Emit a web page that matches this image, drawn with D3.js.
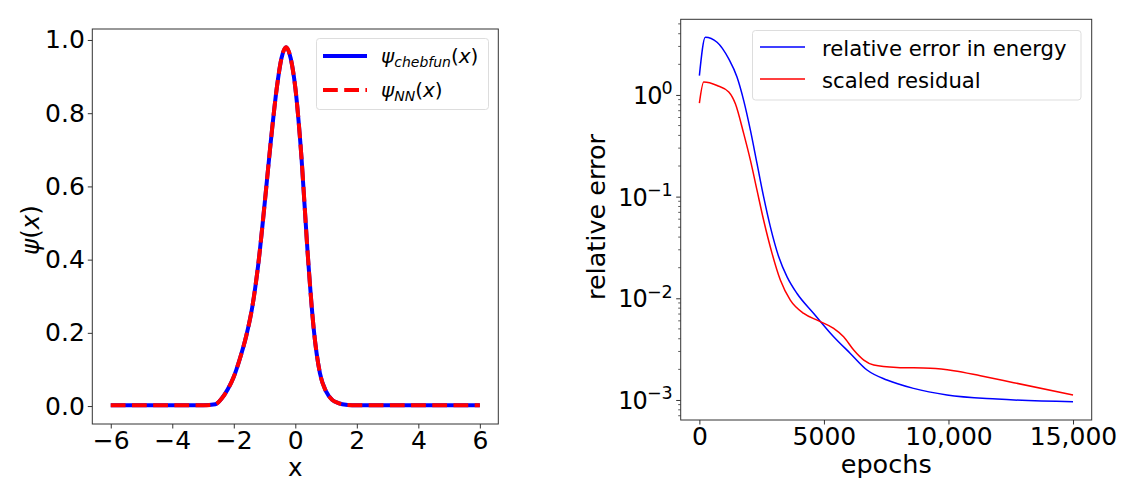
<!DOCTYPE html>
<html><head><meta charset="utf-8">
<script src="https://cdn.jsdelivr.net/npm/d3@7"></script>
<style>body{margin:0;background:#fff}svg{display:block;font-family:"DejaVu Sans",sans-serif}</style>
</head><body><svg id="c" width="1143" height="499"></svg>
<script>
// ---- Left panel data: wavefunction ----
const psiX = [-6, -4, -3, -2.6, -2.4, -2.2, -2.0, -1.8, -1.6, -1.4, -1.2, -1.0, -0.8, -0.6, -0.45, -0.3, -0.15, 0.0, 0.2, 0.4, 0.6, 0.8, 1.0, 1.2, 1.4, 1.7, 2.0, 4, 6];
const psiChebfun = [0.002, 0.002, 0.002, 0.005, 0.02, 0.045, 0.08, 0.13, 0.19, 0.27, 0.39, 0.55, 0.72, 0.87, 0.95, 0.98, 0.95, 0.87, 0.68, 0.42, 0.21, 0.09, 0.04, 0.017, 0.008, 0.003, 0.002, 0.002, 0.002];
const psiNN = [0.002, 0.002, 0.002, 0.005, 0.02, 0.045, 0.08, 0.13, 0.19, 0.27, 0.39, 0.55, 0.72, 0.87, 0.95, 0.98, 0.95, 0.87, 0.68, 0.42, 0.21, 0.09, 0.04, 0.017, 0.008, 0.003, 0.002, 0.002, 0.002];
const leftXTicks = [-6, -4, -2, 0, 2, 4, 6];
const leftYTicks = [0.0, 0.2, 0.4, 0.6, 0.8, 1.0];

// ---- Right panel data: training errors ----
const energyEpochs = [0, 240, 710, 1180, 1510, 1780, 2050, 2315, 2580, 2850, 3185, 3520, 3920, 4590, 5390, 6060, 6730, 7530, 8600, 9940, 11950, 15000];
const energyErr = [1.55, 3.70, 3.30, 2.26, 1.50, 0.88, 0.448, 0.211, 0.0993, 0.0504, 0.0256, 0.01626, 0.01115, 0.0071, 0.00419, 0.00287, 0.00197, 0.00157, 0.0013, 0.00112, 0.00102, 0.00096];
const residEpochs = [0, 175, 710, 1180, 1445, 1780, 2050, 2315, 2580, 2920, 3250, 3650, 4190, 4790, 5390, 5790, 6195, 6600, 7000, 7930, 9270, 10210, 11280, 12620, 15000];
const residErr = [0.83, 1.34, 1.24, 1.07, 0.82, 0.416, 0.227, 0.115, 0.0585, 0.0275, 0.0151, 0.0096, 0.0071, 0.0060, 0.00506, 0.00419, 0.0031, 0.00247, 0.00221, 0.00209, 0.00205, 0.00194, 0.00173, 0.00148, 0.00112];
const rightXTicks = [0, 5000, 10000, 15000];
const rightXTickLabels = ["0", "5000", "10,000", "15,000"];
const rightYExps = [0, -1, -2, -3];

const svg = d3.select("#c");
const TICK_FS = 25;
const LABEL_FS = 24.5;
const spineColor = "#333";

function frame(g, x0, y0, w, h) {
  g.append("rect").attr("x", x0).attr("y", y0).attr("width", w).attr("height", h)
    .attr("fill", "none").attr("stroke", spineColor).attr("stroke-width", 1);
}

// ================= LEFT =================
{
  const L = {x0: 92.3, x1: 498.3, y0: 29, y1: 424};
  const x = d3.scaleLinear().domain([-6.6, 6.6]).range([L.x0, L.x1]);
  const y = d3.scaleLinear().domain([-0.049, 1.03]).range([L.y1, L.y0]);
  const g = svg.append("g");
  const pts = psiX.map((v, i) => [v, psiChebfun[i]]);
  const ptsNN = psiX.map((v, i) => [v, psiNN[i]]);
  const line = d3.line().x(d => x(d[0])).y(d => y(d[1])).curve(d3.curveMonotoneX);
  g.append("clipPath").attr("id", "clipL").append("rect")
    .attr("x", L.x0).attr("y", L.y0).attr("width", L.x1 - L.x0).attr("height", L.y1 - L.y0);
  g.append("path").attr("d", line(pts)).attr("fill", "none").attr("stroke", "#0000ff").attr("stroke-width", 4).attr("clip-path", "url(#clipL)");
  g.append("path").attr("d", line(ptsNN)).attr("fill", "none").attr("stroke", "#ff0000").attr("stroke-width", 4).attr("stroke-dasharray", "14.8,6.4").attr("clip-path", "url(#clipL)");

  const xa = g.append("g").attr("transform", `translate(0,${L.y1})`)
    .call(d3.axisBottom(x).tickValues(leftXTicks).tickSize(4.5).tickPadding(3).tickFormat(d => d < 0 ? "\u2212" + Math.abs(d) : d));
  const ya = g.append("g").attr("transform", `translate(${L.x0},0)`)
    .call(d3.axisLeft(y).tickValues(leftYTicks).tickSize(4.5).tickPadding(3).tickFormat(d3.format(".1f")));
  [xa, ya].forEach(a => {
    a.select(".domain").remove();
    a.selectAll("line").attr("stroke", spineColor);
    a.selectAll("text").attr("font-size", TICK_FS).attr("fill", "#000").attr("font-family", "DejaVu Sans");
  });
  frame(g, L.x0, L.y0, L.x1 - L.x0, L.y1 - L.y0);

  g.append("text").attr("x", (L.x0 + L.x1) / 2).attr("y", 476).attr("text-anchor", "middle")
    .attr("font-size", LABEL_FS).text("x");
  const yl = g.append("text").attr("transform", `translate(39,230) rotate(-90)`).attr("text-anchor", "middle").attr("font-size", LABEL_FS);
  yl.append("tspan").attr("font-style", "italic").text("\u03c8");
  yl.append("tspan").text("(");
  yl.append("tspan").attr("font-style", "italic").text("x");
  yl.append("tspan").text(")");

  // legend
  const lg = g.append("g");
  lg.append("rect").attr("x", 316.5).attr("y", 38.5).attr("width", 172).attr("height", 71).attr("rx", 3)
    .attr("fill", "#fff").attr("fill-opacity", 0.8).attr("stroke", "#ddd");
  lg.append("line").attr("x1", 323).attr("x2", 367).attr("y1", 56).attr("y2", 56).attr("stroke", "#0000ff").attr("stroke-width", 4);
  lg.append("line").attr("x1", 323).attr("x2", 367).attr("y1", 90).attr("y2", 90).attr("stroke", "#ff0000").attr("stroke-width", 4).attr("stroke-dasharray", "14.8,6.4");
  const t1 = lg.append("text").attr("x", 381).attr("y", 63).attr("font-size", 20);
  t1.append("tspan").attr("font-style", "italic").text("\u03c8");
  t1.append("tspan").attr("font-style", "italic").attr("font-size", 14).attr("dy", 4).text("chebfun");
  t1.append("tspan").attr("dy", -4).text("(");
  t1.append("tspan").attr("font-style", "italic").text("x");
  t1.append("tspan").text(")");
  const t2 = lg.append("text").attr("x", 381).attr("y", 97).attr("font-size", 20);
  t2.append("tspan").attr("font-style", "italic").text("\u03c8");
  t2.append("tspan").attr("font-style", "italic").attr("font-size", 14).attr("dy", 4).text("NN");
  t2.append("tspan").attr("dy", -4).text("(");
  t2.append("tspan").attr("font-style", "italic").text("x");
  t2.append("tspan").text(")");
}

// ================= RIGHT =================
{
  const R = {x0: 680.7, x1: 1091.7, y0: 19.3, y1: 420};
  const x = d3.scaleLinear().domain([-750, 15750]).range([R.x0, R.x1]);
  const y = d3.scaleLog().domain([Math.pow(10, -3.197), Math.pow(10, 0.744)]).range([R.y1, R.y0]);
  const g = svg.append("g");
  g.append("clipPath").attr("id", "clipR").append("rect")
    .attr("x", R.x0).attr("y", R.y0).attr("width", R.x1 - R.x0).attr("height", R.y1 - R.y0);
  const line = d3.line().x(d => x(d[0])).y(d => y(d[1])).curve(d3.curveMonotoneX);
  g.append("path").attr("d", line(energyEpochs.map((e, i) => [e, energyErr[i]])))
    .attr("fill", "none").attr("stroke", "#0000ff").attr("stroke-width", 1.5).attr("clip-path", "url(#clipR)");
  g.append("path").attr("d", line(residEpochs.map((e, i) => [e, residErr[i]])))
    .attr("fill", "none").attr("stroke", "#ff0000").attr("stroke-width", 1.5).attr("clip-path", "url(#clipR)");

  const xa = g.append("g").attr("transform", `translate(0,${R.y1})`)
    .call(d3.axisBottom(x).tickValues(rightXTicks).tickSize(4.5).tickPadding(3).tickFormat((d, i) => rightXTickLabels[i]));
  xa.select(".domain").remove();
  xa.selectAll("line").attr("stroke", spineColor);
  xa.selectAll("text").attr("font-size", TICK_FS).attr("fill", "#000").attr("font-family", "DejaVu Sans");

  // minor ticks on log axis
  const minor = [];
  for (let e = -4; e <= 0; e++) for (let m = 2; m <= 9; m++) {
    const v = m * Math.pow(10, e);
    if (v >= y.domain()[0] && v <= y.domain()[1]) minor.push(v);
  }
  g.append("g").selectAll("line").data(minor).join("line")
    .attr("x1", R.x0 - 2.5).attr("x2", R.x0).attr("y1", d => y(d)).attr("y2", d => y(d))
    .attr("stroke", spineColor).attr("stroke-width", 0.8);
  const majors = rightYExps.map(e => Math.pow(10, e));
  const ya = g.append("g").attr("transform", `translate(${R.x0},0)`)
    .call(d3.axisLeft(y).tickValues(majors).tickSize(4.5).tickPadding(3).tickFormat(""));
  ya.select(".domain").remove();
  ya.selectAll("line").attr("stroke", spineColor);
  rightYExps.forEach(e => {
    const t = g.append("text").attr("x", R.x0 - 8).attr("y", y(Math.pow(10, e)) + 9).attr("text-anchor", "end").attr("font-size", 24);
    t.append("tspan").attr("letter-spacing", -1).text("10");
    t.append("tspan").attr("font-size", 17.5).attr("dy", -9.5).text(e < 0 ? "\u2212" + Math.abs(e) : String(e));
  });
  frame(g, R.x0, R.y0, R.x1 - R.x0, R.y1 - R.y0);

  g.append("text").attr("x", (R.x0 + R.x1) / 2).attr("y", 473).attr("text-anchor", "middle").attr("font-size", 25.5).text("epochs");
  g.append("text").attr("transform", `translate(605,217) rotate(-90)`).attr("text-anchor", "middle").attr("font-size", 25.5).text("relative error");

  const lg = g.append("g");
  lg.append("rect").attr("x", 752.5).attr("y", 30.5).attr("width", 328.5).attr("height", 69.5).attr("rx", 3)
    .attr("fill", "#fff").attr("fill-opacity", 0.8).attr("stroke", "#ddd");
  lg.append("line").attr("x1", 760).attr("x2", 805).attr("y1", 47).attr("y2", 47).attr("stroke", "#0000ff").attr("stroke-width", 1.5);
  lg.append("line").attr("x1", 760).attr("x2", 805).attr("y1", 79).attr("y2", 79).attr("stroke", "#ff0000").attr("stroke-width", 1.5);
  lg.append("text").attr("x", 822).attr("y", 56).attr("font-size", 21.2).text("relative error in energy");
  lg.append("text").attr("x", 822).attr("y", 87.5).attr("font-size", 21.2).text("scaled residual");
}
</script></body></html>
